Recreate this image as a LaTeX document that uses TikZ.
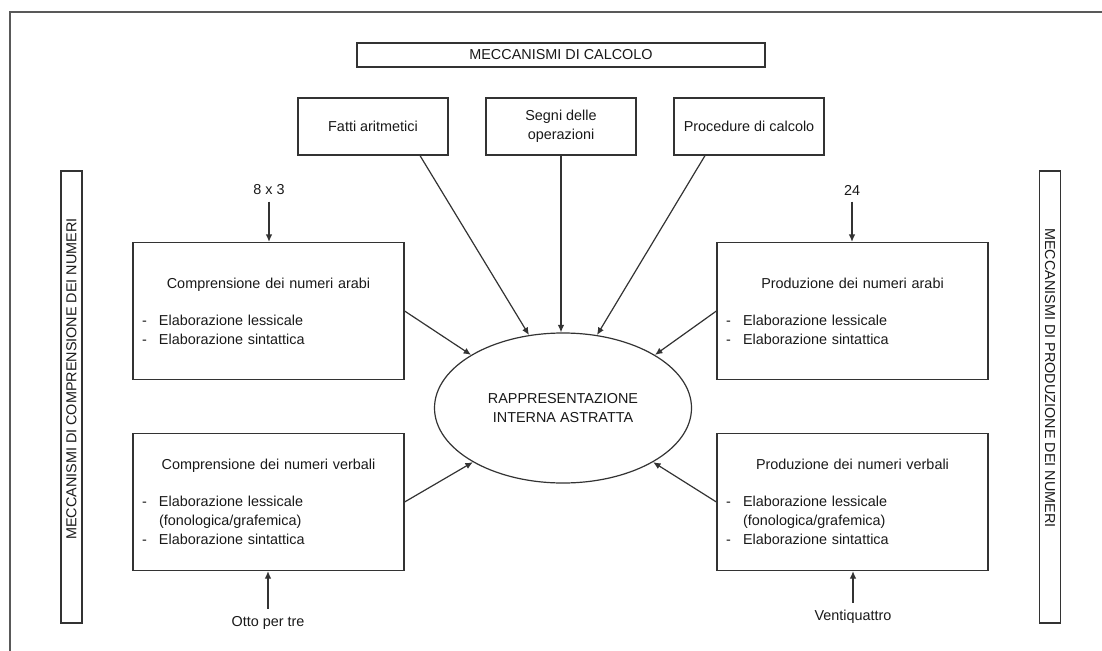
\documentclass[tikz,border=0pt]{standalone}
\usepackage{fontspec}
\setmainfont{Liberation Sans}
\usetikzlibrary{arrows.meta,shapes.geometric}
\tikzset{
  testo/.style={font=\fontsize{14.4}{19}\selectfont, text=black!90},
  scatola/.style={testo, draw=black!80, line width=1.2pt, inner sep=0pt},
  modulo/.style={scatola, minimum width=271, minimum height=137, text width=253, inner xsep=9pt},
  calc/.style={scatola, minimum width=150, minimum height=57, align=center},
  lato/.style={scatola, minimum width=452, minimum height=21}
}
\newcommand{\voce}[1]{\makebox[17pt][l]{-}#1}
\newcommand{\titolo}[1]{{\centering #1\par}\vspace{18pt}}
\begin{document}
\begin{tikzpicture}[x=1pt,y=-1pt,>={Latex[length=7.5pt,width=6.5pt]},line width=1.2pt]
\useasboundingbox (0,0) rectangle (1102,650);
\draw[black!65] (10,660) |- (1110,12);
% meccanismi di calcolo
\node[scatola, minimum width=408, minimum height=24] (calcolo) at (561,55) {MECCANISMI DI CALCOLO};
\node[calc] (fatti) at (373,126.5) {Fatti aritmetici};
\node[calc] (segni) at (561,126.5) {Segni delle\\operazioni};
\node[calc] (proc) at (749,126.5) {Procedure di calcolo};
% rappresentazione
\node[scatola, ellipse, minimum width=257, minimum height=150, align=center] (rep) at (563,408)
  {RAPPRESENTAZIONE\\INTERNA ASTRATTA};
% lati
\node[lato, rotate=90] (comp) at (71.5,397) {\hspace*{36pt}MECCANISMI DI COMPRENSIONE DEI NUMERI};
\node[lato, rotate=-90] (prod) at (1050,397) {MECCANISMI DI PRODUZIONE DEI NUMERI\hspace*{38pt}};
% moduli
\node[modulo] (comparabi) at (268.5,311) {\titolo{Comprensione dei numeri arabi}
  \voce{Elaborazione lessicale}\\\voce{Elaborazione sintattica}};
\node[modulo] (compverb) at (268.5,502) {\titolo{Comprensione dei numeri verbali}
  \voce{Elaborazione lessicale}\\\hspace*{17pt}(fonologica/grafemica)\\\voce{Elaborazione sintattica}};
\node[modulo] (prodarabi) at (852.5,311) {\titolo{Produzione dei numeri arabi}
  \voce{Elaborazione lessicale}\\\voce{Elaborazione sintattica}};
\node[modulo] (prodverb) at (852.5,502) {\titolo{Produzione dei numeri verbali}
  \voce{Elaborazione lessicale}\\\hspace*{17pt}(fonologica/grafemica)\\\voce{Elaborazione sintattica}};
% stimoli e risposte
\node[testo, inner sep=6pt] (otto) at (269,190) {8 x 3};
\node[testo, inner sep=6pt] (ventiq) at (852,190) {24};
\node[testo, inner sep=7pt] (ottop) at (268,623) {Otto per tre};
\node[testo, inner sep=7pt] (venti) at (853,617) {Ventiquattro};
\draw[->, black!80] (otto) -- (otto |- comparabi.north);
\draw[->, black!80] (ventiq) -- (ventiq |- prodarabi.north);
\draw[->, black!80] (ottop) -- (ottop |- compverb.south);
\draw[->, black!80] (venti) -- (venti |- prodverb.south);
% frecce verso la rappresentazione
\draw[->, black!80] ([xshift=47pt]fatti.south) -- (rep.115);
\draw[->, black!80] (segni.south) -- (segni.south |- rep.north);
\draw[->, black!80] ([xshift=-44pt]proc.south) -- (rep.65);
\draw[->, black!80] (comparabi.east) -- (rep.150);
\draw[->, black!80] (prodarabi.west) -- (rep.30);
\draw[->, black!80] (compverb.east) -- (rep.211);
\draw[->, black!80] (prodverb.west) -- (rep.329);
\end{tikzpicture}
\end{document}
